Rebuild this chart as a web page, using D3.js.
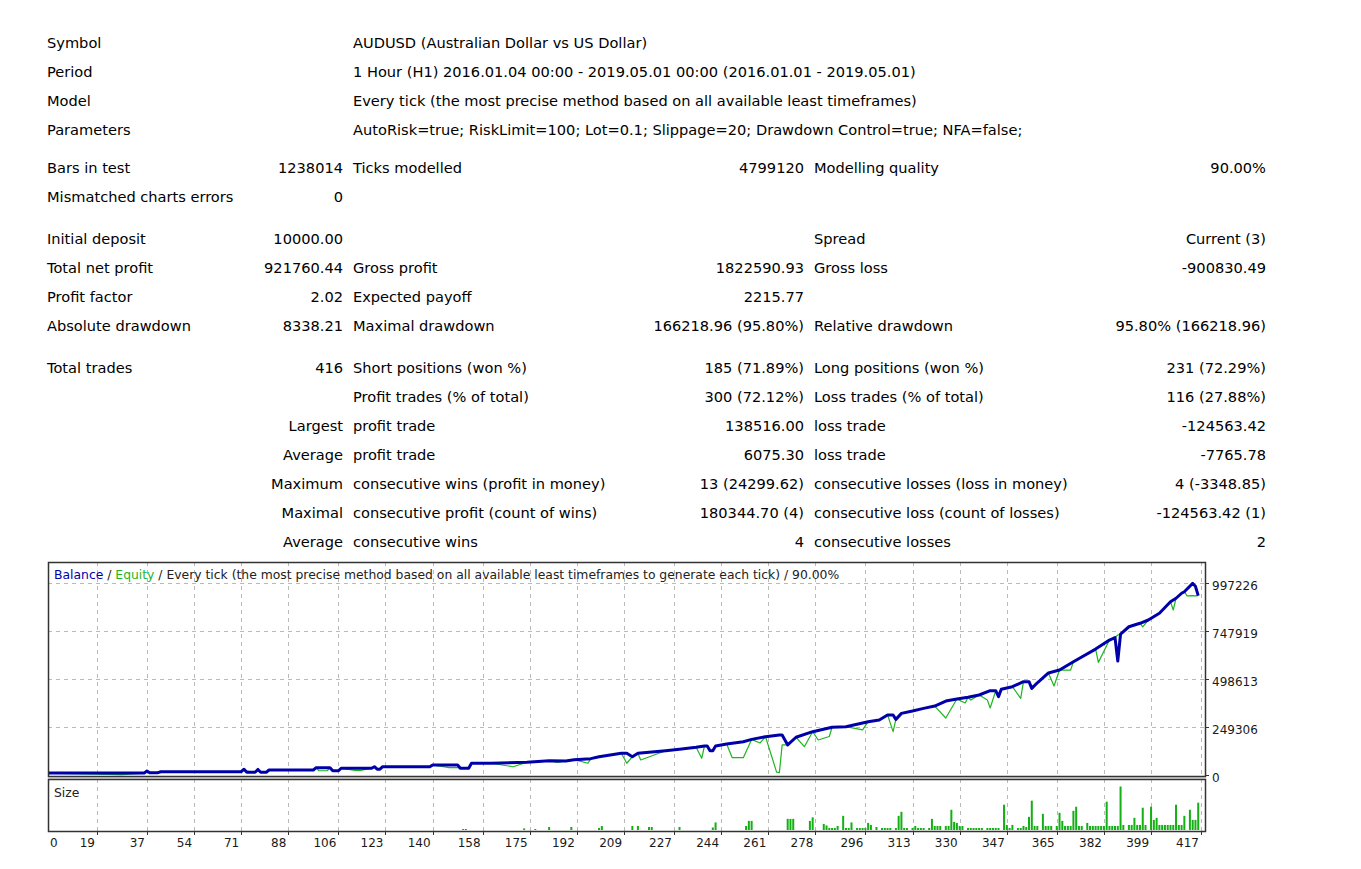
<!DOCTYPE html>
<html><head><meta charset="utf-8">
<script src="https://cdn.jsdelivr.net/npm/d3@7"></script>
<style>
html,body{margin:0;padding:0;background:#fff;}
svg{display:block;font-family:"DejaVu Sans",sans-serif;}
</style></head><body>
<svg id="c" width="1361" height="869"></svg>
<script>
// ---------------- DATA ----------------
const headerLabels = ["Symbol", "Period", "Model", "Parameters"];
const headerValues = [
  "AUDUSD (Australian Dollar vs US Dollar)",
  "1 Hour (H1) 2016.01.04 00:00 - 2019.05.01 00:00 (2016.01.01 - 2019.05.01)",
  "Every tick (the most precise method based on all available least timeframes)",
  "AutoRisk=true; RiskLimit=100; Lot=0.1; Slippage=20; Drawdown Control=true; NFA=false;"
];
// each row: label1, value1, label2, value2, label3, value3
const statRows = [
  ["Bars in test", "1238014", "Ticks modelled", "4799120", "Modelling quality", "90.00%"],
  ["Mismatched charts errors", "0", "", "", "", ""],
  ["Initial deposit", "10000.00", "", "", "Spread", "Current (3)"],
  ["Total net profit", "921760.44", "Gross profit", "1822590.93", "Gross loss", "-900830.49"],
  ["Profit factor", "2.02", "Expected payoff", "2215.77", "", ""],
  ["Absolute drawdown", "8338.21", "Maximal drawdown", "166218.96 (95.80%)", "Relative drawdown", "95.80% (166218.96)"],
  ["Total trades", "416", "Short positions (won %)", "185 (71.89%)", "Long positions (won %)", "231 (72.29%)"],
  ["", "", "Profit trades (% of total)", "300 (72.12%)", "Loss trades (% of total)", "116 (27.88%)"],
  ["", "Largest", "profit trade", "138516.00", "loss trade", "-124563.42"],
  ["", "Average", "profit trade", "6075.30", "loss trade", "-7765.78"],
  ["", "Maximum", "consecutive wins (profit in money)", "13 (24299.62)", "consecutive losses (loss in money)", "4 (-3348.85)"],
  ["", "Maximal", "consecutive profit (count of wins)", "180344.70 (4)", "consecutive loss (count of losses)", "-124563.42 (1)"],
  ["", "Average", "consecutive wins", "4", "consecutive losses", "2"]
];

const legendParts = [
  {text: "Balance", kind: "balance"},
  {text: " / ", kind: "plain"},
  {text: "Equity", kind: "equity"},
  {text: " / Every tick (the most precise method based on all available least timeframes to generate each tick) / 90.00%", kind: "plain"}
];

const yTicks = [0, 249306, 498613, 747919, 997226];
const xTicks = [0, 19, 37, 54, 71, 88, 106, 123, 140, 158, 175, 192, 209, 227, 244, 261, 278, 296, 313, 330, 347, 365, 382, 399, 417];

// balance after trade number [trade, balance]
const balance = [
  [0,10000],[36,10000],[37,21000],[38,12000],[41,12000],[42,17000],[71,17000],[72,30000],[73,14000],
  [76,14000],[77,29000],[78,14000],[80,14000],[81,26000],[97,26000],[98,38000],[103,38000],[104,22000],
  [106,22000],[107,35000],[118,35000],[119,43000],[120,30000],[121,30000],[122,43000],[139,43000],
  [140,52000],[149,52000],[150,35000],[153,35000],[154,61000],[161,61000],[174,66000],[182,74000],
  [188,73000],[191,79500],[197,85000],[200,95000],[208,112700],[210,112700],[212,95000],[214,112700],
  [224,126000],[229,133500],[235,144000],[238,150600],[239,150600],[240,126000],[241,126000],[242,150600],
  [246,161000],[252,173000],[255,185000],[260,199000],[265,208000],[266,208000],[268,156000],[271,196000],
  [277,225000],[284,248000],[289,251000],[297,277000],[301,286000],[304,312000],[306,312000],[307,289000],
  [309,320000],[313,332000],[317,346000],[321,358000],[325,384000],[329,395000],[333,403600],[337,415500],
  [341,438000],[343,438000],[344,407000],[345,445000],[349,458600],[353,484600],[355,484600],[356,450000],
  [358,479000],[362,530000],[366,545000],[371,588000],[374,613000],[379,654000],[384,701000],[386,714000],
  [387,592000],[388,732000],[391,770000],[395,788000],[398,805000],[402,840000],[406,900000],[408,918000],
  [410,944000],[411,952000],[414,995000],[415,980000],[416,931760]
];
// equity readings where equity differs from balance [trade, equity]
const equityDips = [
  [28,1662],[73,20000],[99,22000],[102,22000],[112,24000],[114,24000],[146,38000],[149,38000],
  [169,43000],[185,66000],[196,61000],[210,61000],[215,78000],[237,87000],[248,90000],[252,90000],
  [258,166000],[264,15000],[265,12000],[266,156000],[274,147000],[279,182000],[283,200000],[295,234000],
  [306,225000],[325,296000],[332,374000],[334,389000],[340,389000],[341,348000],[352,398000],[364,462000],
  [370,545000],[380,585000],[387,727000],[396,769000],[407,857000],[412,930000],[414,932000],[415,930000]
];
// lot size per trade [trade, lots]
const sizes = [
  [151,0.1],[152,0.1],[173,0.16],[177,0.1],[182,0.3],[190,0.3],[200,0.2],[201,0.4],[212,0.4],[214,0.4],
  [218,0.3],[219,0.3],[229,0.3],[241,0.25],[242,0.75],[253,0.4],[254,0.9],[255,0.9],[268,1.1],[269,1.1],
  [270,1.1],[276,0.9],[277,1.25],[281,0.6],[282,0.45],[283,0.2],[284,0.2],[285,0.2],[286,0.4],[288,1.4],
  [289,0.2],[290,0.2],[291,0.75],[293,0.2],[294,0.2],[295,0.2],[296,0.2],[297,0.7],[298,0.5],[300,0.3],
  [302,0.2],[303,0.2],[304,0.2],[305,0.2],[307,0.2],[308,1.4],[309,1.8],[310,0.2],[311,0.2],[313,0.2],
  [314,0.4],[315,0.2],[316,0.2],[317,0.2],[319,0.2],[320,1.1],[321,0.4],[322,0.4],[323,0.4],[325,0.4],
  [326,0.4],[327,2.0],[328,0.8],[329,0.7],[330,0.4],[331,0.4],[333,0.2],[334,0.2],[335,0.2],[336,0.2],
  [337,0.2],[338,0.2],[340,0.2],[341,0.2],[342,0.2],[343,0.2],[344,0.2],[346,2.5],[347,0.5],[348,0.2],
  [349,0.5],[351,0.2],[352,0.2],[353,0.4],[354,0.3],[355,1.3],[356,2.9],[357,0.4],[358,0.4],[360,1.6],
  [361,0.4],[362,0.4],[363,0.4],[365,0.4],[366,1.7],[367,0.9],[368,0.4],[369,0.4],[370,0.4],[371,1.9],
  [372,2.3],[373,0.4],[374,0.4],[376,0.7],[377,0.4],[378,0.4],[379,0.4],[380,0.4],[381,0.4],[382,0.4],
  [383,2.8],[384,0.4],[385,0.4],[386,0.4],[387,0.4],[388,4.3],[389,0.5],[391,0.5],[392,0.5],[393,1.2],
  [394,0.5],[395,0.5],[396,2.2],[397,0.5],[399,2.3],[400,1.0],[401,1.2],[402,0.5],[403,0.5],[404,0.5],
  [405,0.5],[406,0.5],[407,0.5],[408,2.5],[409,0.5],[410,0.5],[411,1.4],[413,2.0],[414,1.0],[415,1.0],[416,2.7]
];

// ---------------- LAYOUT ----------------
const svg = d3.select("#c");
const C = {text:"#000", axis:"#1a1a1a", grid:"#b9b9b9", frame:"#333",
           balance:"#0000aa", equity:"#1fb51f", size:"#12b012"};

// table
const col = {l1:47, v1:343, l2:353, v2:804, l3:814, v3:1266};
const headerY = [43, 72, 101, 130];
const statY = [168, 197, 239, 268, 297, 326, 368, 397, 426, 455, 484, 513, 542];
const tfs = 14.6;
const T = svg.append("g").attr("font-size", tfs).attr("fill", C.text);
headerLabels.forEach((l, i) => {
  T.append("text").attr("x", col.l1).attr("y", headerY[i] + 5).text(l);
  T.append("text").attr("x", col.l2).attr("y", headerY[i] + 5).text(headerValues[i]);
});
statRows.forEach((r, i) => {
  const y = statY[i] + 5;
  const cells = [[col.l1,"start"],[col.v1,"end"],[col.l2,"start"],[col.v2,"end"],[col.l3,"start"],[col.v3,"end"]];
  r.forEach((t, j) => {
    if (!t) return;
    T.append("text").attr("x", cells[j][0]).attr("y", y).attr("text-anchor", cells[j][1]).text(t);
  });
});

// chart geometry
const L = 48, R = 1205, mTop = 562, mBot = 776, sTop = 779, sBot = 831;
const x = d3.scaleLinear().domain([19, 417]).range([97, 1201]);
const y = d3.scaleLinear().domain([0, 997226]).range([775, 583]);
const ys = d3.scaleLinear().domain([0, 4.3]).range([830, 786.5]);

svg.append("defs").append("clipPath").attr("id", "clipMain")
  .append("rect").attr("x", L + 1).attr("y", mTop).attr("width", R - L - 1).attr("height", mBot - mTop);

const G = svg.append("g");
// gridlines
const gridX = xTicks.filter(t => t > 0);
G.append("g").selectAll("line").data(gridX).join("line")
  .attr("x1", d => Math.round(x(d)) + 0.5).attr("x2", d => Math.round(x(d)) + 0.5)
  .attr("y1", mTop).attr("y2", mBot)
  .attr("stroke", C.grid).attr("stroke-dasharray", "4,4");
G.append("g").selectAll("line").data(gridX).join("line")
  .attr("x1", d => Math.round(x(d)) + 0.5).attr("x2", d => Math.round(x(d)) + 0.5)
  .attr("y1", sTop).attr("y2", sBot)
  .attr("stroke", C.grid).attr("stroke-dasharray", "4,4");
G.append("g").selectAll("line").data(yTicks.filter(t => t > 0)).join("line")
  .attr("x1", L).attr("x2", R)
  .attr("y1", d => Math.round(y(d)) + 0.5).attr("y2", d => Math.round(y(d)) + 0.5)
  .attr("stroke", C.grid).attr("stroke-dasharray", "4,4");

// size bars
G.append("g").selectAll("line").data(sizes).join("line")
  .attr("x1", d => x(d[0])).attr("x2", d => x(d[0]))
  .attr("y1", ys(0)).attr("y2", d => Math.min(ys(0) - 1, ys(d[1])))
  .attr("stroke", C.size).attr("stroke-width", 2);

// equity series = balance with dips substituted
const dipMap = new Map(equityDips.map(d => [d[0], d[1]]));
const eqSeries = balance.filter(d => !dipMap.has(d[0])).concat(equityDips).sort((a, b) => a[0] - b[0]);
const line = d3.line().x(d => x(d[0])).y(d => y(d[1]));
const plot = G.append("g").attr("clip-path", "url(#clipMain)");
plot.append("path").attr("d", line(eqSeries)).attr("fill", "none")
  .attr("stroke", C.equity).attr("stroke-width", 1.2).attr("stroke-linejoin", "round");
plot.append("path").attr("d", line(balance)).attr("fill", "none")
  .attr("stroke", C.balance).attr("stroke-width", 3).attr("stroke-linejoin", "round");

// frames
G.append("rect").attr("x", L + 0.5).attr("y", mTop + 0.5).attr("width", R - L).attr("height", mBot - mTop)
  .attr("fill", "none").attr("stroke", C.frame).attr("stroke-width", 1.5);
G.append("rect").attr("x", L + 0.5).attr("y", sTop + 0.5).attr("width", R - L).attr("height", sBot - sTop)
  .attr("fill", "none").attr("stroke", C.frame).attr("stroke-width", 1.5);
G.append("line").attr("x1", L).attr("x2", R + 1).attr("y1", (mBot + sTop) / 2 + 0.5).attr("y2", (mBot + sTop) / 2 + 0.5)
  .attr("stroke", "#9a9a9a").attr("stroke-width", 1);

// legend
const lg = G.append("text").attr("x", 54).attr("y", 579).attr("font-size", 12.37);
legendParts.forEach(p => lg.append("tspan")
  .attr("fill", p.kind === "balance" ? C.balance : p.kind === "equity" ? C.equity : "#222")
  .text(p.text));
G.append("text").attr("x", 54).attr("y", 797).attr("font-size", 12.37).attr("fill", "#222").text("Size");

// y axis
const ya = G.append("g").attr("font-size", 12).attr("fill", C.axis);
yTicks.forEach(v => {
  ya.append("line").attr("x1", R).attr("x2", R + 4).attr("y1", Math.round(y(v)) + 0.5).attr("y2", Math.round(y(v)) + 0.5)
    .attr("stroke", C.frame);
  ya.append("text").attr("x", 1212).attr("y", y(v) + 6.5).text(v);
});
// x axis
const xa = G.append("g").attr("font-size", 12).attr("fill", C.axis);
xTicks.forEach((t, i) => {
  if (i > 0) {
    xa.append("line").attr("x1", Math.round(x(t)) + 0.5).attr("x2", Math.round(x(t)) + 0.5)
      .attr("y1", sBot).attr("y2", sBot + 4).attr("stroke", C.frame);
    xa.append("text").attr("x", x(t) - 2).attr("y", 847).attr("text-anchor", "end").text(t);
  } else {
    xa.append("text").attr("x", 50).attr("y", 847).text(t);
  }
});
</script>
</body></html>
